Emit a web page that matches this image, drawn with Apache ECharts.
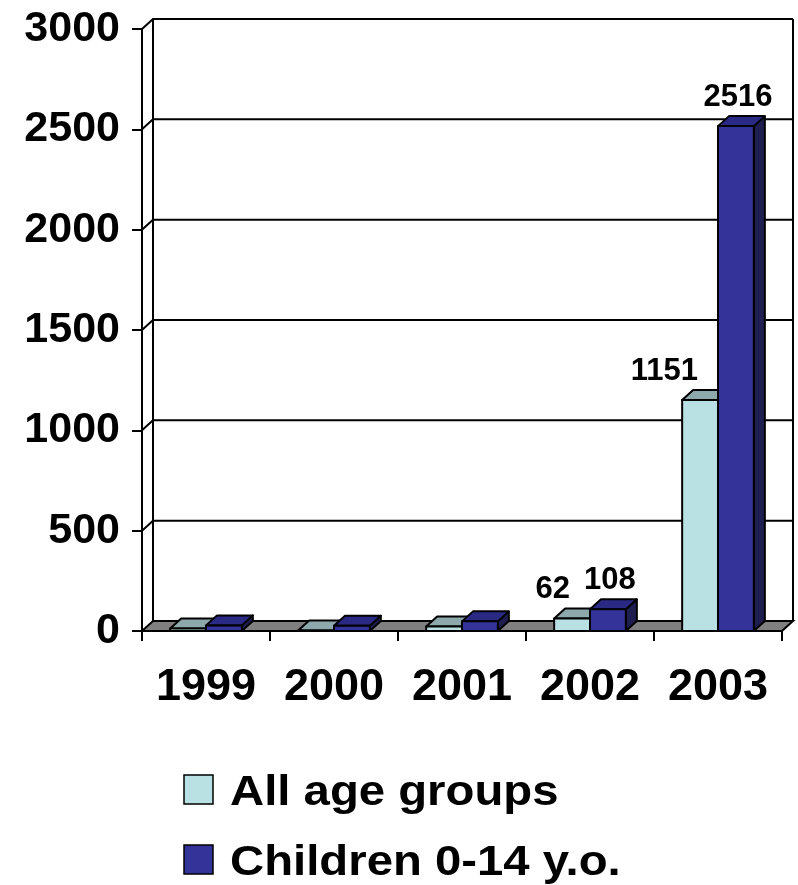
<!DOCTYPE html>
<html>
<head>
<meta charset="utf-8">
<script src="https://cdn.jsdelivr.net/npm/echarts@6/dist/echarts.min.js"></script>
<style>
  html, body { margin: 0; padding: 0; background: #fff; }
  #chart { width: 798px; height: 885px; }
</style>
</head>
<body>
<div id="chart"></div>
<script>
// Yearly counts, all ages vs. children 0-14
const categories = ['1999', '2000', '2001', '2002', '2003'];
const allAges = [13, 3, 22, 62, 1151];
const children = [28, 26, 48, 108, 2516];
const labelled = [false, false, false, true, true];
const yTicks = [0, 500, 1000, 1500, 2000, 2500, 3000];
const seriesNames = ['All age groups', 'Children 0-14 y.o.'];

// depth offset of the 3D box (pixels)
const DX = 11, DY = 10;
const FONT = '"Liberation Sans", Arial, sans-serif';
const LW = 2;

const palettes = [
  { front: '#B9E1E4', top: '#8DA9AB', side: '#7E9799' },
  { front: '#333399', top: '#2A2A84', side: '#1E1E50' }
];

// walls, floor and gridlines drawn with a depth offset
function renderFrame(params, api) {
  const cs = params.coordSys;
  const v = api.value(1);
  const y = api.coord([0, v])[1];
  const x0 = cs.x, w = cs.width;
  if (v === 0) {
    const yTop = api.coord([0, yTicks[yTicks.length - 1]])[1];
    return {
      type: 'group',
      children: [
        { type: 'line', shape: { x1: x0 + DX, y1: yTop - DY, x2: x0 + DX, y2: y - DY },
          style: { stroke: '#000', lineWidth: LW } },
        { type: 'line', shape: { x1: x0 + w + DX, y1: yTop - DY, x2: x0 + w + DX, y2: y - DY },
          style: { stroke: '#000', lineWidth: LW } },
        { type: 'polygon',
          shape: { points: [[x0, y], [x0 + w, y], [x0 + w + DX, y - DY], [x0 + DX, y - DY]] },
          style: { fill: '#808080', stroke: '#000', lineWidth: LW } }
      ]
    };
  }
  return {
    type: 'polyline',
    shape: { points: [[x0, y], [x0 + DX, y - DY], [x0 + w + DX, y - DY]] },
    style: { fill: null, stroke: '#000', lineWidth: LW }
  };
}

function makeBarRenderer(idx) {
  const pal = palettes[idx];
  return function (params, api) {
    const ci = api.value(0), v = api.value(1);
    const base = api.coord([ci, 0]);
    const top = api.coord([ci, v]);
    const bw = api.size([1, 0])[0] * 0.28;
    const x0 = idx === 0 ? base[0] - bw : base[0];
    const x1 = x0 + bw;
    const yb = base[1], yt = top[1];
    const stroke = { stroke: '#000', lineWidth: LW, lineJoin: 'round' };
    const kids = [
      { type: 'polygon', shape: { points: [[x1, yb], [x1, yt], [x1 + DX, yt - DY], [x1 + DX, yb - DY]] },
        style: Object.assign({ fill: pal.side }, stroke) },
      { type: 'polygon', shape: { points: [[x0, yt], [x1, yt], [x1 + DX, yt - DY], [x0 + DX, yt - DY]] },
        style: Object.assign({ fill: pal.top }, stroke) },
      { type: 'rect', shape: { x: x0, y: yt, width: bw, height: yb - yt },
        style: Object.assign({ fill: pal.front }, stroke) }
    ];
    if (labelled[ci]) {
      const lx = idx === 0 ? x1 - 20 : (x0 + x1) / 2 + 2;
      const ly = idx === 0 ? yt - 29 : yt - 29;
      kids.push({
        type: 'text',
        style: {
          text: String(v), x: lx, y: ly,
          align: idx === 0 ? 'right' : 'center', verticalAlign: 'middle',
          fontSize: 31, fontWeight: 'bold', fontFamily: FONT, fill: '#000'
        }
      });
    }
    return { type: 'group', children: kids };
  };
}

// legend entries: swatch + label, stacked vertically
function legendEntry(i, y) {
  return {
    type: 'group', x: 184, y: y,
    children: [
      { type: 'rect', shape: { x: 0, y: 0, width: 29, height: 29 },
        style: { fill: palettes[i].front, stroke: '#000', lineWidth: 1.5 } },
      { type: 'text', x: 46, y: 18, scaleX: 1.1,
        style: { text: seriesNames[i], fontSize: 43, fontWeight: 'bold', fontFamily: FONT,
                 fill: '#000', align: 'left', verticalAlign: 'middle' } }
    ]
  };
}

const chart = echarts.init(document.getElementById('chart'), null, { renderer: 'canvas' });
chart.setOption({
  animation: false,
  backgroundColor: '#fff',
  grid: { left: 142, right: 16, top: 29, bottom: 254 },
  xAxis: {
    type: 'category',
    data: categories,
    boundaryGap: true,
    axisLine: { show: true, lineStyle: { color: '#000', width: LW } },
    axisTick: { show: true, interval: 0, length: 10, lineStyle: { color: '#000', width: LW } },
    axisLabel: { interval: 0, hideOverlap: false, margin: 34, color: '#000', fontSize: 45,
                 fontWeight: 'bold', fontFamily: FONT },
    splitLine: { show: false }
  },
  yAxis: {
    type: 'value',
    min: 0, max: 3000, interval: 500,
    axisLine: { show: true, lineStyle: { color: '#000', width: LW } },
    axisTick: { show: true, length: 10, lineStyle: { color: '#000', width: LW } },
    axisLabel: { margin: 22, color: '#000', fontSize: 43, fontWeight: 'bold', fontFamily: FONT,
                 formatter: v => String(v) },
    splitLine: { show: false }
  },
  graphic: [legendEntry(0, 775), legendEntry(1, 845)],
  series: [
    {
      type: 'custom', name: 'frame', renderItem: renderFrame, clip: false, silent: true,
      encode: { x: 0, y: 1 },
      data: yTicks.map(v => [0, v]), z: 1
    },
    {
      type: 'custom', name: seriesNames[0], renderItem: makeBarRenderer(0), clip: false,
      encode: { x: 0, y: 1 }, itemStyle: { color: palettes[0].front },
      data: allAges.map((v, i) => [i, v]), z: 2
    },
    {
      type: 'custom', name: seriesNames[1], renderItem: makeBarRenderer(1), clip: false,
      encode: { x: 0, y: 1 }, itemStyle: { color: palettes[1].front },
      data: children.map((v, i) => [i, v]), z: 3
    }
  ]
});
</script>
</body>
</html>
